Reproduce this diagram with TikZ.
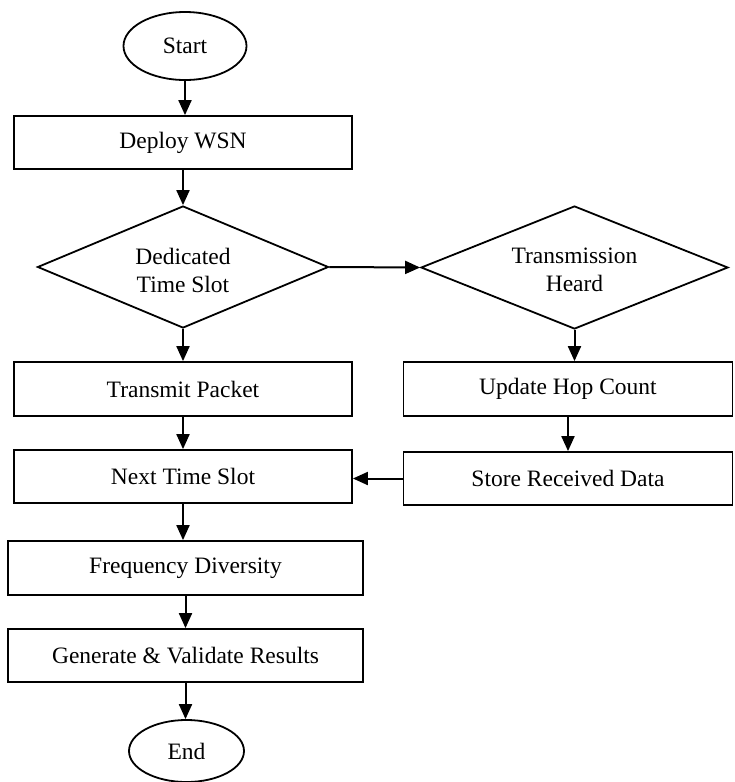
\documentclass[tikz,border=0pt]{standalone}
\usepackage{fontspec}
\setmainfont{Liberation Serif}
\usetikzlibrary{shapes.geometric,arrows.meta}
\begin{document}
\begin{tikzpicture}[x=1pt,y=-1pt,
  every node/.style={font=\fontsize{23.5}{28}\selectfont, inner sep=0pt, align=center},
  boxnode/.style={draw, line width=1.8pt, rectangle, minimum height=53pt},
  ovalnode/.style={draw, line width=1.8pt, ellipse},
  decnode/.style={draw, line width=1.8pt, diamond},
  arr/.style={line width=2pt, -{Triangle[length=15pt,width=13pt]}}]
\useasboundingbox (0,0) rectangle (734,782);
\node[ovalnode, minimum width=123pt, minimum height=68pt] (start) at (185,46) {Start};
\node[boxnode, minimum width=338pt] (deploy) at (183,142.5) {Deploy WSN};
\node[decnode, minimum width=291pt, minimum height=122pt] (d1) at (183,267) {};
\node (d1t) at (183,270) {Dedicated\\Time Slot};
\node[decnode, minimum width=307pt, minimum height=123pt] (d2) at (574.5,267.5) {};
\node (d2t) at (574.5,270) {Transmission\\Heard};
\node[boxnode, minimum width=338pt, minimum height=54pt] (transmit) at (183,389) {Transmit Packet};
\node[boxnode, minimum width=329pt, minimum height=54pt] (update) at (568,389) {Update Hop Count};
\node[boxnode, minimum width=338pt] (next) at (183,476.5) {Next Time Slot};
\node[boxnode, minimum width=329pt] (store) at (568,478.5) {Store Received Data};
\node[boxnode, minimum width=355pt, minimum height=54pt] (freq) at (185.5,568) {Frequency Diversity};
\node[boxnode, minimum width=355pt] (gen) at (185.5,655.5) {Generate \& Validate Results};
\node[ovalnode, minimum width=115pt, minimum height=62pt] (end) at (186.5,751) {End};
\draw[arr] (start.south) -- (start.south |- deploy.north);
\draw[arr] (deploy.south -| d1.north) -- (d1.north);
\draw[arr] (d1.south) -- (d1.south |- transmit.north);
\draw[arr] (transmit.south) -- (next.north);
\draw[arr] (next.south) -- (next.south |- freq.north);
\draw[arr] (freq.south) -- (gen.north);
\draw[arr] (gen.south) -- (gen.south |- end.north);
\draw[arr] (d1.east) -- (d2.west);
\draw[arr] (d2.south) -- (d2.south |- update.north);
\draw[arr] (update.south) -- (update.south |- store.north);
\draw[arr] (store.west) -- (store.west -| next.east);
\end{tikzpicture}
\end{document}
